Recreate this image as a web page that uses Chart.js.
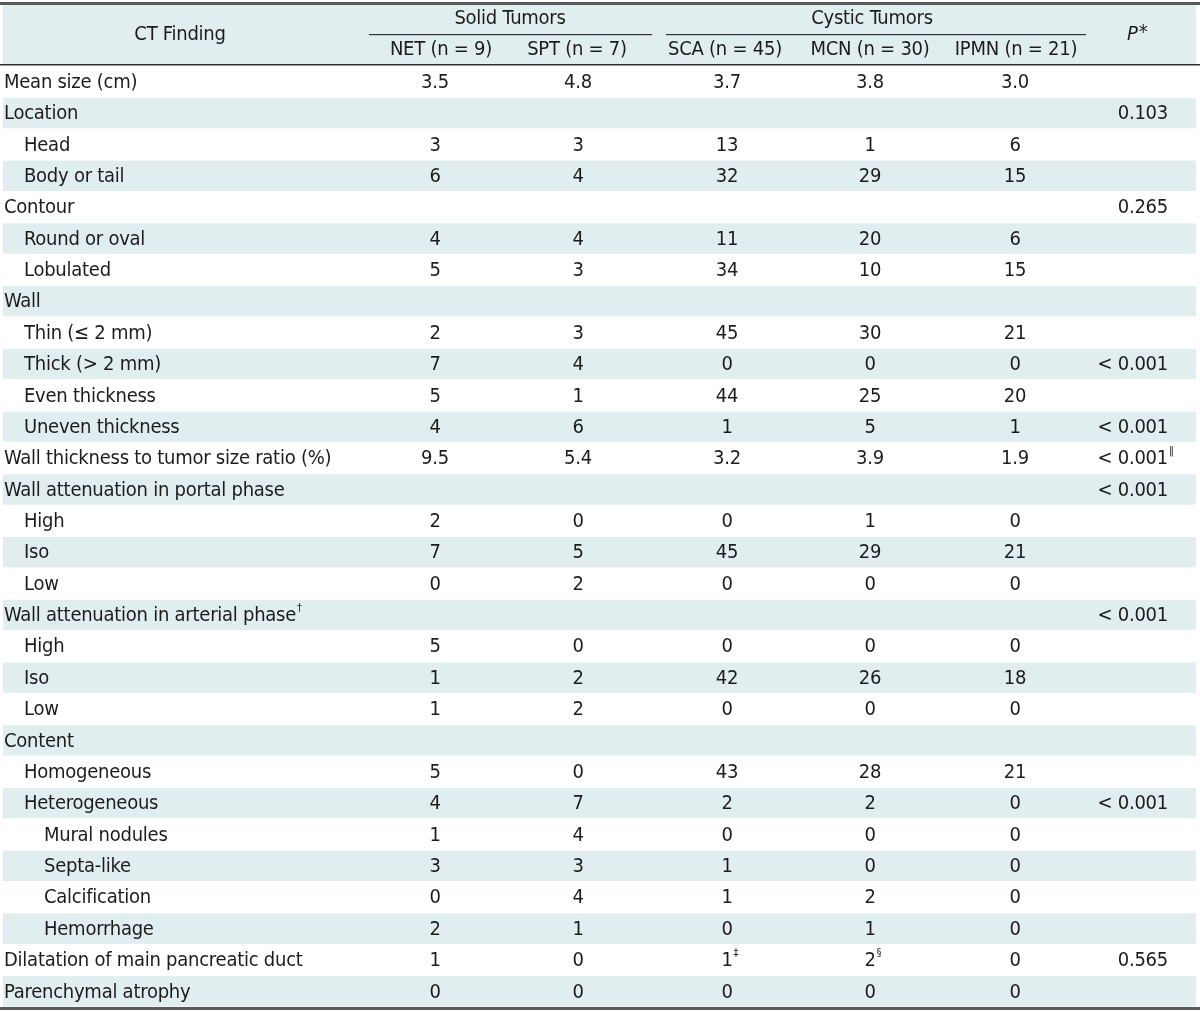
<!DOCTYPE html>
<html>
<head>
<meta charset="utf-8">
<script src="https://cdn.jsdelivr.net/npm/chart.js@4.4.1/dist/chart.umd.min.js"></script>
<style>
  html, body { margin: 0; padding: 0; background: #fff; }
</style>
</head>
<body>
<canvas id="myChart" width="1200" height="1011"></canvas>
<script>
// table content, one entry per row ("^" marks a superscript footnote sign)
var findings = [
    'Mean size (cm)', 'Location', 'Head', 'Body or tail', 'Contour',
    'Round or oval', 'Lobulated', 'Wall', 'Thin (\u2264 2 mm)', 'Thick (> 2 mm)',
    'Even thickness', 'Uneven thickness', 'Wall thickness to tumor size ratio (%)',
    'Wall attenuation in portal phase', 'High', 'Iso', 'Low',
    'Wall attenuation in arterial phase^\u2020', 'High', 'Iso', 'Low',
    'Content', 'Homogeneous', 'Heterogeneous', 'Mural nodules', 'Septa-like',
    'Calcification', 'Hemorrhage', 'Dilatation of main pancreatic duct', 'Parenchymal atrophy'
];
var levels = [0, 0, 1, 1, 0, 1, 1, 0, 1, 1, 1, 1, 0, 0, 1, 1, 1, 0, 1, 1, 1, 0, 1, 1, 2, 2, 2, 2, 0, 0];

var netVals  = ['3.5', '', '3', '6', '', '4', '5', '', '2', '7', '5', '4', '9.5', '', '2', '7', '0', '', '5', '1', '1', '', '5', '4', '1', '3', '0', '2', '1', '0'];
var sptVals  = ['4.8', '', '3', '4', '', '4', '3', '', '3', '4', '1', '6', '5.4', '', '0', '5', '2', '', '0', '2', '2', '', '0', '7', '4', '3', '4', '1', '0', '0'];
var scaVals  = ['3.7', '', '13', '32', '', '11', '34', '', '45', '0', '44', '1', '3.2', '', '0', '45', '0', '', '0', '42', '0', '', '43', '2', '0', '1', '1', '0', '1^\u2021', '0'];
var mcnVals  = ['3.8', '', '1', '29', '', '20', '10', '', '30', '0', '25', '5', '3.9', '', '1', '29', '0', '', '0', '26', '0', '', '28', '2', '0', '0', '2', '1', '2^\u00a7', '0'];
var ipmnVals = ['3.0', '', '6', '15', '', '6', '15', '', '21', '0', '20', '1', '1.9', '', '0', '21', '0', '', '0', '18', '0', '', '21', '0', '0', '0', '0', '0', '0', '0'];
var pVals    = ['', '0.103', '', '', '0.265', '', '', '', '', '< 0.001', '', '< 0.001', '< 0.001^\u2016', '< 0.001', '', '', '', '< 0.001', '', '', '', '', '', '< 0.001', '', '', '', '', '0.565', ''];

var groupNames = ['Solid Tumors', 'Cystic Tumors'];
var columnNames = ['NET (n = 9)', 'SPT (n = 7)', 'SCA (n = 45)', 'MCN (n = 30)', 'IPMN (n = 21)'];
var firstHeader = 'CT Finding';

var FONT = '"Liberation Sans Narrow", "DejaVu Sans Condensed", sans-serif';
var TEXT = '#1e1b1c';
var SHADE = '#e1eef0';

function drawText(ctx, str, x, y, align) {
    var parts = str.split('^');
    ctx.font = '20px ' + FONT;
    ctx.letterSpacing = '-0.25px';
    var w = ctx.measureText(parts[0]).width;
    var left = x;
    if (align == 'center') left = x - w / 2;
    if (align == 'right') left = x - w;
    ctx.textAlign = 'left';
    ctx.fillText(parts[0], left, y);
    if (parts[1]) {
        ctx.font = '11px ' + FONT;
        ctx.letterSpacing = '0px';
        ctx.fillText(parts[1], left + w + 1, y - 8);
    }
}

var tablePlugin = {
    id: 'tablePlugin',
    afterDraw: function(chart) {
        var ctx = chart.ctx;
        var xs = chart.scales.x;
        var ys = chart.scales.y;
        var area = chart.chartArea;
        var band = (area.bottom - area.top) / findings.length;
        var colX = [435, 578, 727, 870, 1015].map(function(v){ return xs.getPixelForValue(v); });
        var headX = [441, 577, 725, 870, 1016].map(function(v){ return xs.getPixelForValue(v); });
        var pRight = xs.getPixelForValue(1168);
        var cols = [netVals, sptVals, scaVals, mcnVals, ipmnVals];

        ctx.save();
        // header shade
        ctx.fillStyle = SHADE;
        ctx.fillRect(3, 5, 1193, area.top - 6);
        // row shades
        for (let i = 0; i < findings.length; i++) {
            if (i % 2 == 1) {
                var cy = ys.getPixelForValue(i);
                ctx.fillRect(3, cy - band / 2 + 0.5, 1193, band - 1);
            }
        }
        // rules
        ctx.fillStyle = '#5a5a5a';
        ctx.fillRect(0, 2, 1200, 3);
        ctx.fillRect(0, area.bottom, 1200, 3);
        ctx.fillStyle = '#333';
        ctx.fillRect(0, area.top - 2, 1200, 1.5);
        ctx.fillRect(369, 34, 283, 1.2);
        ctx.fillRect(666, 34, 420, 1.2);

        // header text
        ctx.fillStyle = TEXT;
        ctx.textBaseline = 'middle';
        drawText(ctx, firstHeader, 180, 35, 'center');
        drawText(ctx, groupNames[0], 510, 19, 'center');
        drawText(ctx, groupNames[1], 872, 19, 'center');
        for (let c = 0; c < columnNames.length; c++) {
            drawText(ctx, columnNames[c], headX[c], 50, 'center');
        }
        ctx.font = 'italic 20px ' + FONT;
        ctx.letterSpacing = '0px';
        ctx.textAlign = 'left';
        var pw = ctx.measureText('P').width;
        ctx.fillText('P', 1127, 35);
        ctx.font = '20px ' + FONT;
        ctx.fillText('*', 1127 + pw + 1, 33);

        // body
        for (let i = 0; i < findings.length; i++) {
            var y = ys.getPixelForValue(i) + 1;
            drawText(ctx, findings[i], 4 + levels[i] * 20, y, 'left');
            for (let c = 0; c < cols.length; c++) {
                if (cols[c][i] !== '') drawText(ctx, cols[c][i], colX[c], y, 'center');
            }
            if (pVals[i] !== '') drawText(ctx, pVals[i], pRight, y, 'right');
        }
        ctx.restore();
    }
};

var tableChart = new Chart(document.getElementById('myChart'), {
    type: 'bar',
    data: { labels: findings, datasets: [] },
    options: {
        responsive: false,
        animation: false,
        indexAxis: 'y',
        layout: { padding: { top: 66, bottom: 4, left: 0, right: 0 } },
        plugins: { legend: { display: false }, tooltip: { enabled: false } },
        scales: {
            x: { type: 'linear', min: 0, max: 1200, display: false },
            y: { type: 'category', labels: findings, offset: true, display: false }
        }
    },
    plugins: [tablePlugin]
});
</script>
</body>
</html>
